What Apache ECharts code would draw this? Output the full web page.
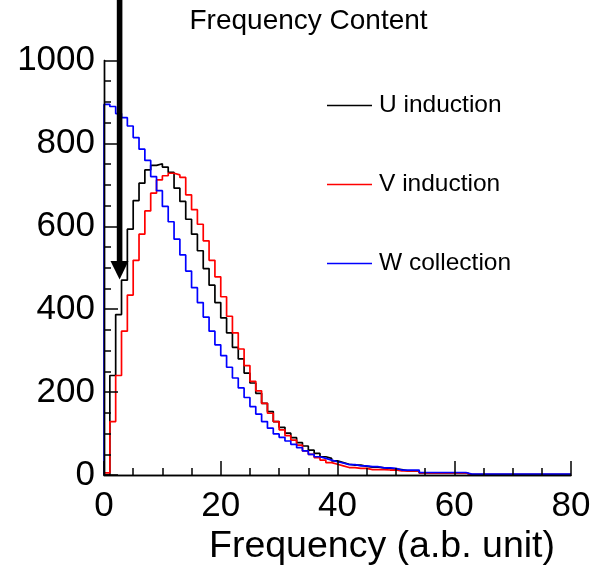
<!DOCTYPE html>
<html>
<head>
<meta charset="utf-8">
<script src="https://cdn.jsdelivr.net/npm/echarts@6/dist/echarts.min.js"></script>
<style>
html,body{margin:0;padding:0;background:#fff;}
#c{width:595px;height:566px;}
</style>
</head>
<body>
<div id="c"></div>
<script>
// Histogram bins: bin i covers frequency [i, i+1)
const seriesNames = ['U induction', 'V induction', 'W collection'];
const xTicks = [0, 20, 40, 60, 80];
const yTicks = [0, 200, 400, 600, 800, 1000];

const uInduction = [
  0, 240, 387, 470, 593, 662, 704, 736, 747, 751,
  743, 730, 692, 660, 617, 581, 541, 498, 458, 416,
  379, 343, 308, 280, 246, 222, 197, 173, 153, 129,
  115, 101, 90, 78, 70, 60, 52, 44, 40, 34,
  30, 26, 24, 24, 21, 19, 19, 17, 16, 14,
  13, 10, 10, 10, 5, 5, 5, 5, 5, 5,
  5, 5, 1, 1, 1, 1, 1, 1, 1, 1,
  1, 1, 1, 1, 1, 1, 1, 1, 1, 1
];
const vInduction = [
  5, 129, 240, 347, 434, 518, 581, 637, 680, 712,
  722, 728, 724, 718, 676, 640, 605, 565, 518, 478,
  430, 383, 343, 304, 264, 226, 203, 173, 149, 129,
  109, 95, 84, 72, 58, 50, 42, 36, 30, 26,
  22, 18, 18, 16, 16, 13, 13, 13, 12, 12,
  10, 10, 10, 10, 5, 5, 5, 5, 5, 5,
  5, 5, 1, 1, 1, 1, 1, 1, 1, 1,
  1, 1, 1, 1, 1, 1, 1, 1, 1, 1
];
const wCollection = [
  894, 889, 872, 862, 842, 814, 786, 759, 720, 686,
  648, 611, 569, 531, 492, 452, 416, 381, 347, 314,
  288, 260, 234, 210, 187, 165, 147, 129, 113, 99,
  91, 82, 74, 66, 58, 50, 44, 40, 36, 32,
  29, 25, 25, 22, 22, 20, 20, 17, 17, 16,
  12, 12, 12, 12, 6, 6, 6, 6, 6, 6,
  6, 6, 2, 2, 2, 2, 2, 2, 2, 2,
  2, 2, 2, 2, 2, 2, 2, 2, 2, 2
];

function histPoints(vals) {
  const pts = [[0, 0]];
  vals.forEach((v, i) => pts.push([i, v]));
  pts.push([vals.length, vals[vals.length - 1]]);
  return pts;
}

const colors = ['#000000', '#ff0000', '#0000ff'];
const allVals = [uInduction, vInduction, wCollection];
const FONT = 'Liberation Sans, Arial, Helvetica, sans-serif';

const mkTicks = () => ({
  z: 10,
  axisLine: {show: true, lineStyle: {color: '#000', width: 1.4}},
  axisTick: {show: true, inside: true, length: 14, lineStyle: {color: '#000', width: 1.5}},
  minorTick: {show: true, splitNumber: 4, length: 7, lineStyle: {color: '#000', width: 1.5}},
  splitLine: {show: false}
});
const frameOnly = () => ({
  z: 10,
  axisLine: {show: true, lineStyle: {color: '#000', width: 1.4}},
  axisTick: {show: false}, axisLabel: {show: false}, splitLine: {show: false}, minorTick: {show: false}
});

const chart = echarts.init(document.getElementById('c'));
chart.setOption({
  animation: false,
  backgroundColor: '#ffffff',
  grid: {left: 104, top: 60.5, right: 24, bottom: 85, show: false},
  legend: {
    orient: 'vertical', left: 327, top: 93, padding: 0, itemWidth: 45, itemHeight: 1.5, icon: 'rect',
    itemGap: 54, selectedMode: false,
    textStyle: {fontFamily: FONT, fontSize: 24.5, color: '#000', padding: [0, 0, 0, 2]},
    data: seriesNames
  },
  xAxis: [
    Object.assign({
      type: 'value', min: xTicks[0], max: xTicks[xTicks.length - 1], interval: 20, position: 'bottom',
      axisLabel: {fontFamily: FONT, fontSize: 35, color: '#000', margin: 14, showMinLabel: true, showMaxLabel: true,
        formatter: v => String(v)},
      name: 'Frequency (a.b. unit)', nameLocation: 'end', nameGap: -16,
      nameTextStyle: {fontFamily: FONT, fontSize: 37.5, color: '#000', align: 'right', verticalAlign: 'top', padding: [53, 0, 0, 0]}
    }, mkTicks()),
    Object.assign({type: 'value', min: xTicks[0], max: xTicks[xTicks.length - 1], interval: 20, position: 'top'}, frameOnly())
  ],
  yAxis: [
    Object.assign({
      type: 'value', min: yTicks[0], max: yTicks[yTicks.length - 1], interval: 200, position: 'left',
      axisLabel: {fontFamily: FONT, fontSize: 35, color: '#000', margin: 9, showMinLabel: true, showMaxLabel: true,
        formatter: v => String(v)}
    }, mkTicks()),
    Object.assign({type: 'value', min: yTicks[0], max: yTicks[yTicks.length - 1], interval: 200, position: 'right'}, frameOnly())
  ],
  series: seriesNames.map((name, k) => ({
    name: name, type: 'line', step: 'end', showSymbol: false, symbol: 'none',
    xAxisIndex: 0, yAxisIndex: 0,
    data: histPoints(allVals[k]),
    lineStyle: {color: colors[k], width: 1.7},
    itemStyle: {color: colors[k]},
    z: 3 + k
  })),
  graphic: [
    {type: 'text', left: 308.5 - 119, top: 7, style: {text: 'Frequency Content', fontFamily: FONT, fontSize: 28, fill: '#000'}},
    {type: 'rect', shape: {x: 116.8, y: 0, width: 5.6, height: 263}, style: {fill: '#000'}, z: 100},
    {type: 'polygon', shape: {points: [[110.5, 261], [128.5, 261], [119.6, 279.5]]}, style: {fill: '#000'}, z: 100}
  ]
});
</script>
</body>
</html>
